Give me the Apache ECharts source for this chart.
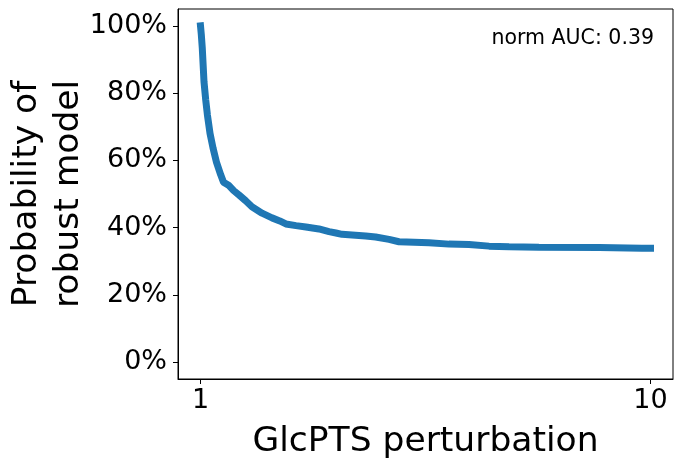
<!DOCTYPE html>
<html lang="en">
<head>
    <meta charset="UTF-8">
    <title>GlcPTS perturbation</title>
    <script src="https://cdn.jsdelivr.net/npm/echarts@6/dist/echarts.min.js"></script>
    <style>
        html, body { margin: 0; padding: 0; background: #ffffff; }
        #chart { width: 684px; height: 466px; }
    </style>
</head>
<body>
<div id="chart"></div>
<script>
    // perturbation level (log scale) and share of robust models in %
    var perturbation = [1.000, 1.004, 1.009, 1.018, 1.027, 1.036, 1.050, 1.066, 1.085, 1.109,
        1.125, 1.157, 1.185, 1.218, 1.260, 1.301, 1.370, 1.442, 1.500, 1.548,
        1.630, 1.715, 1.833, 1.930, 2.000, 2.063, 2.329, 2.450, 2.624, 2.761,
        3.220, 3.566, 3.951, 4.377, 4.849, 5.650, 7.690, 9.570, 10.00];
    var robustPct = [100, 97.5, 93.5, 83.4, 78.0, 73.5, 68.0, 63.7, 59.5, 55.7,
        53.5, 52.5, 51.0, 49.7, 48.0, 46.2, 44.3, 42.9, 42.0, 41.1,
        40.6, 40.2, 39.6, 38.8, 38.4, 38.0, 37.5, 37.2, 36.5, 35.8,
        35.5, 35.1, 35.0, 34.5, 34.3, 34.2, 34.1, 33.9, 33.9];
    var xTicks = [1, 10];
    var yTicks = [0, 20, 40, 60, 80, 100];
    var aucText = 'norm AUC: 0.39';

    var font = 'DejaVu Sans';
    var points = [];
    for (var i = 0; i < perturbation.length; i++) {
        points.push([perturbation[i], robustPct[i]]);
    }

    var myChart = echarts.init(document.getElementById('chart'));
    var option = {
        backgroundColor: '#ffffff',
        animation: false,
        grid: {
            left: 178, right: 11, top: 9, bottom: 87,
            outerBoundsMode: 'none',
            containLabel: false,
            show: true, borderColor: '#000', borderWidth: 1
        },
        graphic: [{
            type: 'text',
            right: 30, top: 28,
            style: { text: aucText, font: '20.5px "DejaVu Sans"', fill: '#000' }
        }],
        xAxis: {
            type: 'log',
            min: Math.pow(10, -0.05),
            max: Math.pow(10, 1.05),
            name: 'GlcPTS perturbation',
            nameLocation: 'middle',
            nameGap: 46,
            nameTextStyle: { fontFamily: font, fontSize: 34.5, color: '#000' },
            axisLine: { onZero: false, lineStyle: { color: '#000', width: 1 } },
            axisTick: { length: 5, customValues: xTicks, lineStyle: { color: '#000' } },
            minorTick: { show: false },
            splitLine: { show: false },
            axisLabel: {
                customValues: xTicks,
                fontFamily: font, fontSize: 27, color: '#000', margin: 8
            }
        },
        yAxis: {
            type: 'value',
            min: -5,
            max: 105,
            name: 'Probability of\nrobust model',
            nameLocation: 'middle',
            nameGap: 88,
            nameMoveOverlap: false,
            nameTextStyle: { fontFamily: font, fontSize: 34.5, color: '#000', lineHeight: 42 },
            axisLine: { show: true, onZero: false, lineStyle: { color: '#000', width: 1 } },
            axisTick: { show: true, length: 5, customValues: yTicks, lineStyle: { color: '#000' } },
            splitLine: { show: false },
            axisLabel: {
                customValues: yTicks,
                formatter: '{value}%',
                fontFamily: font, fontSize: 27, color: '#000', margin: 11
            }
        },
        series: [{
            type: 'line',
            data: points,
            showSymbol: false,
            lineStyle: { color: '#1f77b4', width: 7, cap: 'square' },
            itemStyle: { color: '#1f77b4' }
        }]
    };
    myChart.setOption(option);
</script>
</body>
</html>
